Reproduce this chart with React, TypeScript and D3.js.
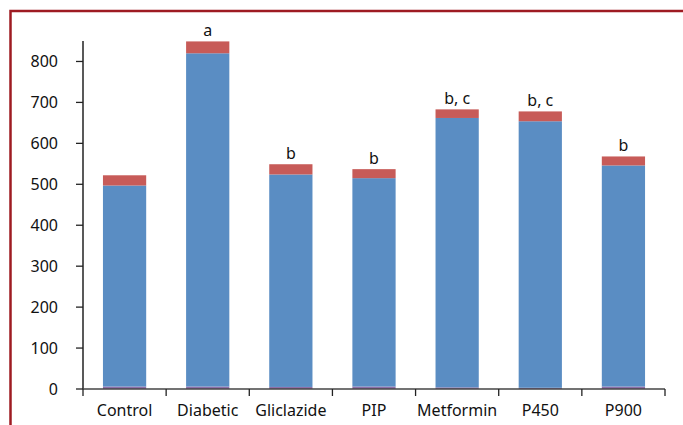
import * as d3 from "d3";

const categories = ["Control", "Diabetic", "Gliclazide", "PIP", "Metformin", "P450", "P900"];
// stacked series, bottom to top
const baseValues = [6, 6, 5, 6, 4, 3, 6];
const meanValues = [491, 814, 519, 509, 658, 651, 540];
const errorValues = [25, 29, 25, 22, 21, 24, 22];
const letters = ["", "a", "b", "b", "b, c", "b, c", "b"];
const yTicks = [0, 100, 200, 300, 400, 500, 600, 700, 800];

const seriesKeys = ["base", "mean", "error"];
const seriesColors = ["#8e6fa8", "#5a8dc3", "#c75b58"];

const W = 683;
const H = 425;
const M = { left: 83, right: 18, top: 41, bottom: 36 };
const FONT = "'Noto Sans', 'Open Sans', sans-serif";

export default function App() {
  const innerW = W - M.left - M.right;
  const innerH = H - M.top - M.bottom;

  const rows = categories.map((c, i) => ({
    name: c,
    base: baseValues[i],
    mean: meanValues[i],
    error: errorValues[i],
  }));

  const stacked = d3.stack<any>().keys(seriesKeys)(rows);

  const x = d3.scaleBand().domain(categories).range([0, innerW]).paddingInner(0.48).paddingOuter(0.24);
  const y = d3.scaleLinear().domain([0, 850]).range([innerH, 0]);
  const step = innerW / categories.length;

  return (
    <svg width={W} height={H} style={{ position: "absolute", left: 0, top: 0 }}>
      <rect x={0} y={0} width={W} height={H} fill="#fff" />
      {/* frame */}
      <path d={`M10.5,${H + 5} L10.5,11 L${W + 5},11`} fill="none" stroke="#9e1b22" strokeWidth={2.5} />
      <g transform={`translate(${M.left},${M.top})`}>
        {stacked.map((s, si) => (
          <g key={s.key} fill={seriesColors[si]}>
            {s.map((d, i) => (
              <rect
                key={i}
                x={x(categories[i])}
                y={y(d[1])}
                width={x.bandwidth()}
                height={y(d[0]) - y(d[1])}
              />
            ))}
          </g>
        ))}

        {/* significance letters */}
        {rows.map((r, i) => (
          <text
            key={r.name}
            x={(x(r.name) ?? 0) + x.bandwidth() / 2}
            y={y(r.base + r.mean + r.error) - 5}
            textAnchor="middle"
            fontFamily={FONT}
            fontSize={16}
            fill="#111"
          >
            {letters[i]}
          </text>
        ))}

        {/* y axis */}
        <line x1={0} x2={0} y1={0} y2={innerH} stroke="#222" strokeWidth={1.5} />
        {yTicks.map((t) => (
          <g key={t} transform={`translate(0,${y(t)})`}>
            <line x1={-7} x2={0} stroke="#222" strokeWidth={1.3} />
            <text x={-25} dy="0.35em" textAnchor="end" fontFamily={FONT} fontSize={16} fill="#111">
              {t}
            </text>
          </g>
        ))}

        {/* x axis */}
        <line x1={0} x2={innerW} y1={innerH} y2={innerH} stroke="#444" strokeWidth={1.5} />
        {d3.range(categories.length + 1).map((i) => (
          <line key={i} x1={i * step} x2={i * step} y1={innerH} y2={innerH + 7} stroke="#222" strokeWidth={1.3} />
        ))}
        {categories.map((c) => (
          <text
            key={c}
            x={(x(c) ?? 0) + x.bandwidth() / 2}
            y={innerH + 27}
            textAnchor="middle"
            fontFamily={FONT}
            fontSize={16}
            fill="#111"
          >
            {c}
          </text>
        ))}
      </g>
    </svg>
  );
}
